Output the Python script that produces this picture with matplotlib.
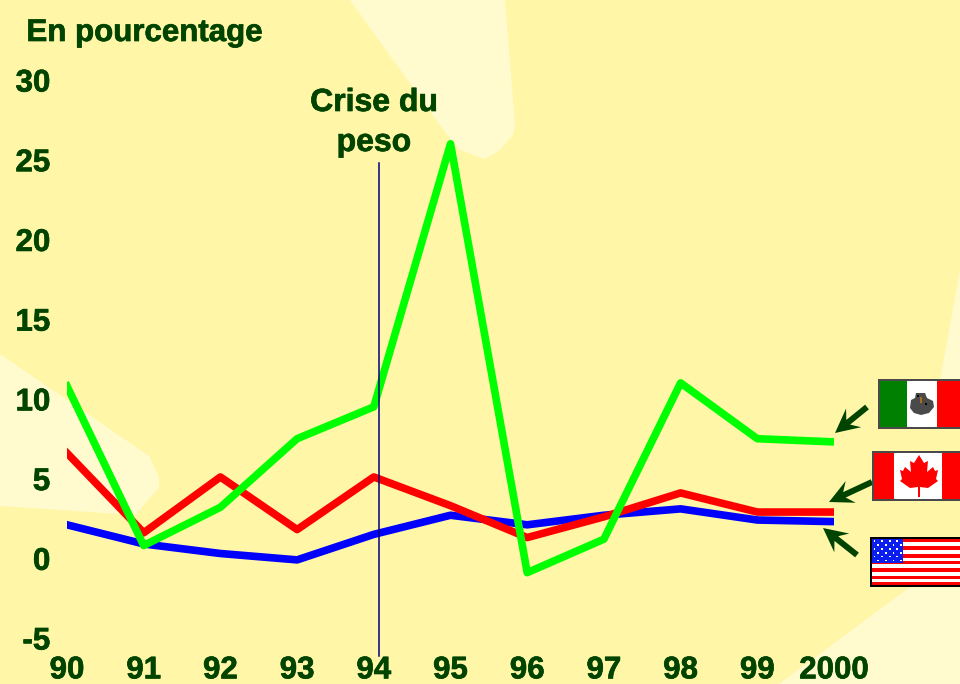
import math

import matplotlib
matplotlib.use("Agg")
import matplotlib.patches as mpatches
import matplotlib.patheffects as pe
from matplotlib import pyplot as plt

years = [90, 91, 92, 93, 94, 95, 96, 97, 98, 99, 100]
year_labels = ["90", "91", "92", "93", "94", "95", "96", "97", "98", "99", "2000"]
y_ticks = [-5, 0, 5, 10, 15, 20, 25, 30]

mexico = [10.8, 0.8, 3.2, 7.5, 9.5, 26.0, -0.9, 1.2, 11.0, 7.5, 7.3]
canada = [6.6, 1.6, 5.1, 1.8, 5.1, 3.3, 1.3, 2.6, 4.1, 2.9, 2.9]
usa = [2.1, 0.9, 0.3, -0.1, 1.5, 2.7, 2.1, 2.7, 3.1, 2.4, 2.3]

BG = "#FFF6A8"
LIGHT = "#FFFBCF"
DARK = "#004400"
W, H = 960, 684
heavy = [pe.withStroke(linewidth=0.5, foreground=DARK)]

plt.rcParams["font.family"] = ["Liberation Sans", "DejaVu Sans"]
plt.rcParams["axes.unicode_minus"] = False
fig = plt.figure(figsize=(W / 100, H / 100), dpi=100, facecolor=BG)

# background and flags are drawn in pixel coordinates
deco = fig.add_axes([0, 0, 1, 1], zorder=0)
deco.set_xlim(0, W)
deco.set_ylim(H, 0)
deco.axis("off")

overlay = fig.add_axes([0, 0, 1, 1], zorder=2)
overlay.set_xlim(0, W)
overlay.set_ylim(H, 0)
overlay.axis("off")

beams = [
    [(350, 0), (447, 135), (460, 150), (485, 159), (500, 150), (513, 135), (515, 125), (505, 0)],
    [(0, 354), (149, 456), (159, 477), (159, 488), (148, 500), (135, 515), (0, 506)],
    [(960, 270), (940, 380), (960, 380)],
    [(779, 684), (910, 587), (960, 560), (960, 684)],
]
for b in beams:
    deco.add_patch(mpatches.Polygon(b, closed=True, fc=LIGHT, ec="none"))

# data axes, 90..2000 and -5..30
ax = fig.add_axes([67 / W, 1 - 638 / H, (834 - 67) / W, (638 - 80) / H], zorder=1)
ax.patch.set_alpha(0)
ax.set_xlim(90, 100)
ax.set_ylim(-5, 30)
for s in ax.spines.values():
    s.set_visible(False)
ax.set_xticks(years)
ax.set_xticklabels(year_labels)
ax.set_yticks(y_ticks)
ax.tick_params(axis="both", length=0, labelsize=22.5, labelcolor=DARK)
ax.tick_params(axis="x", pad=12.5)
ax.tick_params(axis="y", pad=12)
for t in ax.get_xticklabels() + ax.get_yticklabels():
    t.set_fontweight("bold")
    t.set_path_effects(heavy)

for vals, col in [(usa, "#0000FF"), (canada, "#FF0000"), (mexico, "#00FF00")]:
    ax.plot(years, vals, color=col, lw=5.5, solid_joinstyle="round", solid_capstyle="projecting")
overlay.plot([379, 379], [163, 656], color="#000080", lw=1.1)

overlay.text(144.5, 33, "En pourcentage", color=DARK, fontsize=22.5, fontweight="bold",
             ha="center", va="center", path_effects=heavy)
overlay.text(374, 103, "Crise du", color=DARK, fontsize=23, fontweight="bold",
             ha="center", va="center", path_effects=heavy)
overlay.text(374, 143, "peso", color=DARK, fontsize=23, fontweight="bold",
             ha="center", va="center", path_effects=heavy)


def arrow(tail, tip):
    # barbed arrow head, the wings sweep back past the notch
    a = math.atan2(tail[1] - tip[1], tail[0] - tip[0])
    ux, uy = math.cos(a), math.sin(a)
    px, py = -uy, ux
    pts = []
    for along, side in [(0, 0), (24, 12), (17, 3), (None, 3), (None, -3), (17, -3), (24, -12)]:
        d = math.hypot(tail[0] - tip[0], tail[1] - tip[1]) if along is None else along
        pts.append((tip[0] + ux * d + px * side, tip[1] + uy * d + py * side))
    overlay.add_patch(mpatches.Polygon(pts, closed=True, fc=DARK, ec="none"))


arrow((867, 407), (835, 433))
arrow((872, 482), (829, 502))
arrow((857, 555), (823, 528))


def rect(x0, y0, x1, y1, color):
    overlay.add_patch(mpatches.Rectangle((x0, y0), x1 - x0, y1 - y0, fc=color, ec="none"))


# Mexico
rect(878, 379, 960, 429, "#4A4A4A")
rect(880, 381, 907, 427, "#008000")
rect(907, 381, 937, 427, "white")
rect(937, 381, 960, 427, "#FF0000")
emblem = [(916, 393), (925, 393), (927, 398), (933, 401), (934, 407), (929, 413), (921, 415),
          (914, 413), (910, 408), (911, 400), (915, 398)]
overlay.add_patch(mpatches.Polygon(emblem, closed=True, fc="#4A4A4A", ec="none"))
rect(920, 397, 922, 403, "#B06A20")
rect(925, 403, 927, 405, "black")
rect(917, 395, 919, 397, "black")

# Canada
rect(872, 451, 960, 501, "#4A4A4A")
rect(874, 453, 894, 499, "#FF0000")
rect(894, 453, 942, 499, "white")
rect(942, 453, 960, 499, "#FF0000")
leaf = [(919, 455), (924, 463), (928, 461), (927, 472), (933, 467), (935, 471), (938, 470),
        (936, 479), (938, 481), (928, 488), (920, 487), (920, 497), (918, 497), (918, 487),
        (910, 488), (900, 481), (902, 479), (900, 470), (903, 471), (905, 467), (911, 472),
        (910, 461), (914, 463)]
overlay.add_patch(mpatches.Polygon(leaf, closed=True, fc="#FF0000", ec="none"))

# USA
rect(870, 537, 960, 587, "black")
rect(872, 539, 960, 585, "white")
for y0, y1 in [(539, 542), (546, 550), (554, 558), (561, 564), (568, 572), (576, 579), (582, 585)]:
    rect(872, y0, 960, y1, "#FF0000")
rect(872, 539, 903, 563, "#0A1EF0")
for r in range(6):
    for c in range(8):
        if (r + c) % 2 == 0:
            overlay.add_patch(mpatches.Rectangle((873.5 + c * 3.8, 540 + r * 3.9), 1.8, 1.8,
                                                 fc="white", ec="none"))

fig.savefig("out.png", dpi=100, facecolor=BG)
